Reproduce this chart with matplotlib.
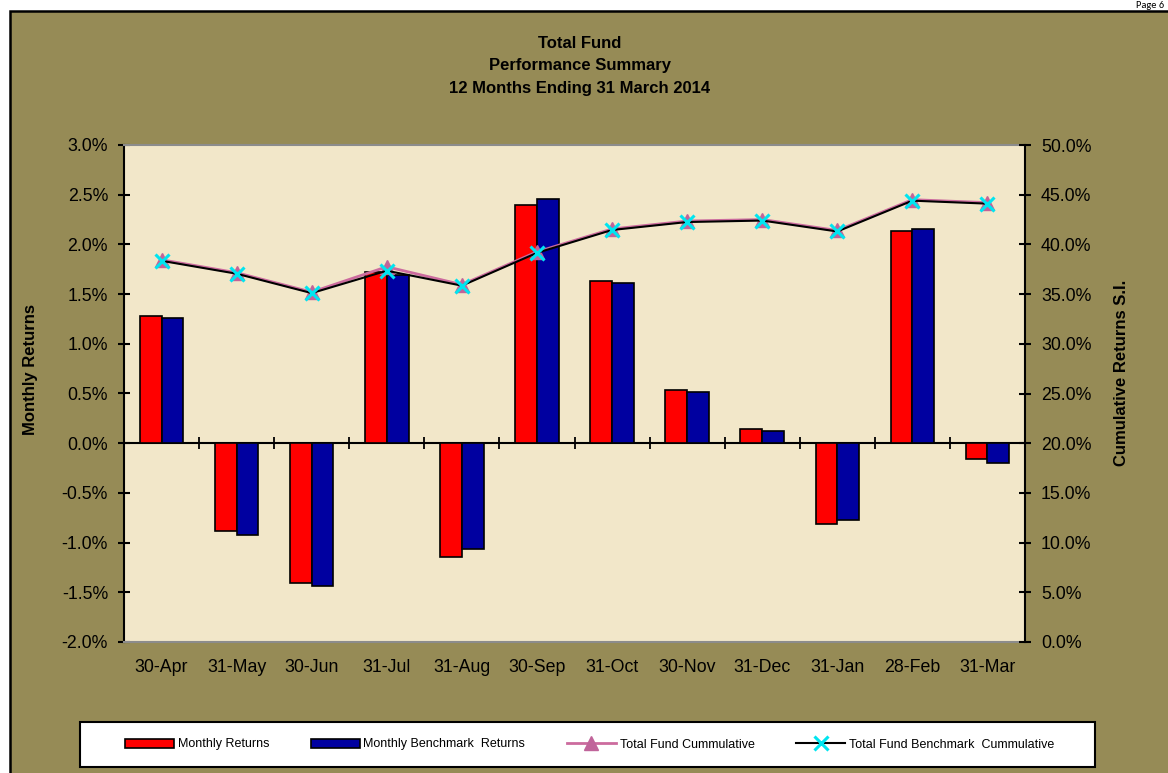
import numpy as np
import matplotlib
matplotlib.use("Agg")
import matplotlib.pyplot as plt
from matplotlib.patches import Rectangle
from matplotlib.ticker import FuncFormatter

plt.rcParams["font.family"] = ["Liberation Sans", "DejaVu Sans"]

meses = ["30-Apr", "31-May", "30-Jun", "31-Jul", "31-Aug", "30-Sep",
         "31-Oct", "30-Nov", "31-Dec", "31-Jan", "28-Feb", "31-Mar"]
retorno_mensal = [1.28, -0.88, -1.41, 1.72, -1.14, 2.40,
                  1.63, 0.54, 0.14, -0.81, 2.13, -0.16]
retorno_bench = [1.26, -0.92, -1.44, 1.69, -1.06, 2.46,
                 1.61, 0.52, 0.12, -0.77, 2.15, -0.20]
acum_fundo = [38.45, 37.15, 35.20, 37.75, 35.95, 39.25,
              41.55, 42.35, 42.50, 41.40, 44.50, 44.20]
acum_bench = [38.35, 37.05, 35.10, 37.35, 35.85, 39.15,
              41.45, 42.25, 42.40, 41.30, 44.40, 44.10]

W, H = 1168, 773
oliva = "#968b56"
fundo_plot = "#f2e7c9"

fig = plt.figure(figsize=(W / 100, H / 100), dpi=100)
fig.patch.set_facecolor("white")

# area do grafico (oliva) com borda preta
fig.patches.append(Rectangle((10 / W, -0.01), 1.0, (H - 11) / H + 0.01,
                             transform=fig.transFigure, fc=oliva, ec="black",
                             lw=1.8, zorder=-2))
fig.text(1164 / W, 1 - 1 / H, "Page 6", ha="right", va="top",
         fontsize=7.5, family=["Carlito", "Liberation Sans", "DejaVu Sans"])

ax = fig.add_axes([124 / W, 1 - 642 / H, 901 / W, 497 / H])
ax.set_facecolor(fundo_plot)

x = np.arange(len(meses))
w = 0.29
b1 = ax.bar(x - w / 2, retorno_mensal, w, color="#ff0000", edgecolor="black",
            lw=1.2, label="Monthly Returns", zorder=2)
b2 = ax.bar(x + w / 2, retorno_bench, w, color="#0000a0", edgecolor="black",
            lw=1.2, label="Monthly Benchmark  Returns", zorder=2)

ax.set_xlim(-0.5, len(meses) - 0.5)
ax.set_ylim(-2, 3)
ax.set_yticks(np.arange(-2, 3.01, 0.5))
ax.yaxis.set_major_formatter(FuncFormatter(lambda v, p: f"{v:.1f}%"))
ax.set_xticks(x, meses)
ax.tick_params(axis="x", length=0, pad=12, labelsize=12.8)
ax.tick_params(axis="y", direction="inout", length=9, width=1.5, pad=7,
               labelsize=12.8)

for s in ["top", "bottom"]:
    ax.spines[s].set_color("#8c8c8c")
    ax.spines[s].set_linewidth(1.5)
ax.spines["left"].set_linewidth(1.5)
ax.spines["right"].set_visible(False)

# eixo do zero com marcas entre categorias
y0, y1 = ax.get_ylim()
sec = ax.secondary_xaxis((0 - y0) / (y1 - y0))
sec.set_xticks(np.arange(0.5, len(meses) - 1, 1))
sec.tick_params(direction="inout", length=9, width=1.3, labelbottom=False)
sec.spines["bottom"].set_linewidth(1.5)

ax2 = ax.twinx()
l1, = ax2.plot(x, acum_fundo, color="#cc6b9e", lw=2, marker="^", ms=10,
               mfc="#c0649a", mec="#c0649a", label="Total Fund Cummulative")
l2, = ax2.plot(x, acum_bench, color="black", lw=1.5, marker="x", ms=10,
               mew=2.2, mec="#00e5f0", label="Total Fund Benchmark  Cummulative")
ax2.set_ylim(0, 50)
ax2.set_yticks(np.arange(0, 50.1, 5))
ax2.yaxis.set_major_formatter(FuncFormatter(lambda v, p: f"{v:.1f}%"))
ax2.tick_params(axis="y", direction="inout", length=9, width=1.5, pad=7,
                labelsize=12.8)
ax2.spines["right"].set_linewidth(1.5)
for s in ["top", "bottom", "left"]:
    ax2.spines[s].set_visible(False)

fig.text(31 / W, 1 - 370 / H, "Monthly Returns", rotation=90, ha="center",
         va="center", fontsize=12, fontweight="bold")
fig.text(1122 / W, 1 - 373 / H, "Cumulative Returns S.I.", rotation=90,
         ha="center", va="center", fontsize=12, fontweight="bold")

titulos = ["Total Fund", "Performance Summary", "12 Months Ending 31 March 2014"]
for i, t in enumerate(titulos):
    fig.text(580 / W, 1 - (43 + 22.8 * i) / H, t, ha="center", va="center",
             fontsize=12, fontweight="bold")

# legenda
fig.patches.append(Rectangle((80 / W, 1 - 767 / H), 1015 / W, 45 / H,
                             transform=fig.transFigure, fc="white",
                             ec="black", lw=1.5, zorder=1))
leg = fig.legend([b1, b2, l1, l2],
                 [b1.get_label(), b2.get_label(), l1.get_label(), l2.get_label()],
                 loc="center", ncol=4, mode="expand", frameon=False,
                 bbox_to_anchor=(125 / W, 1 - 767 / H, 929 / W, 45 / H),
                 fontsize=9, handlelength=3.9, handleheight=0.7,
                 handletextpad=0.3, borderpad=0, borderaxespad=0)
leg.set_zorder(3)

fig.savefig("out.png", dpi=100)
plt.close(fig)
